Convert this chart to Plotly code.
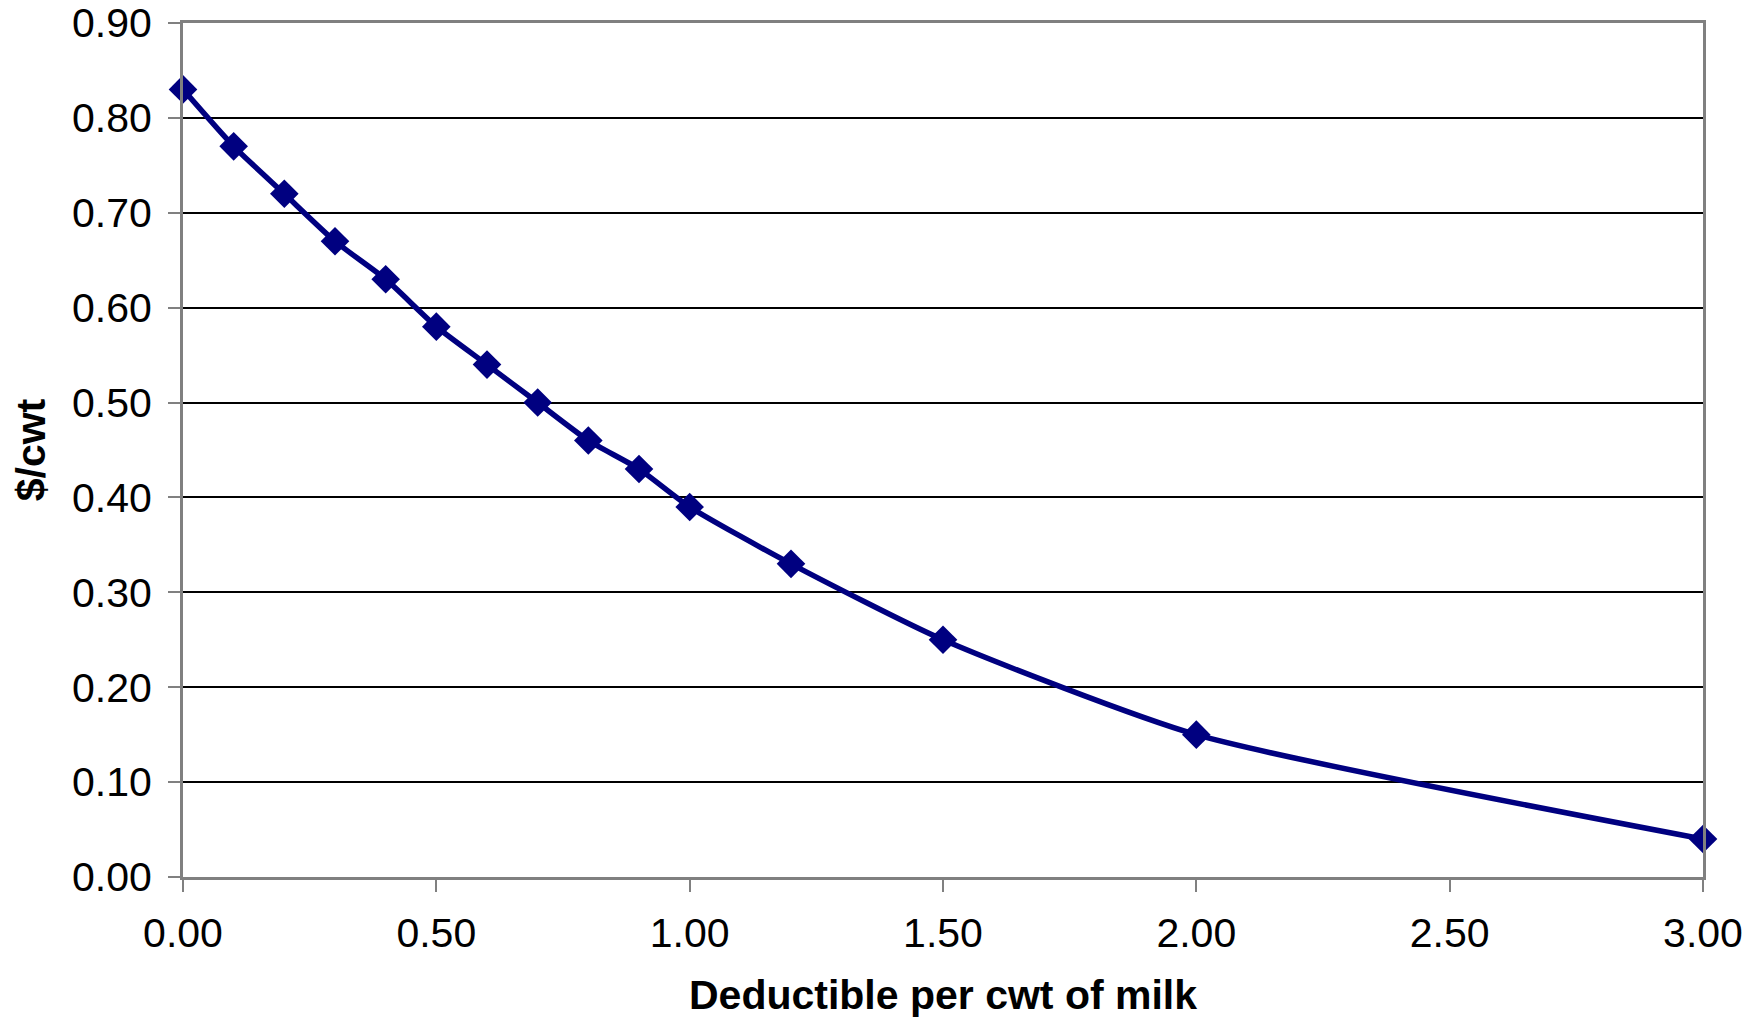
import plotly.graph_objects as go

deductible = [0.0, 0.1, 0.2, 0.3, 0.4, 0.5, 0.6, 0.7, 0.8, 0.9, 1.0, 1.2, 1.5, 2.0, 3.0]
cost = [0.83, 0.77, 0.72, 0.67, 0.63, 0.58, 0.54, 0.50, 0.46, 0.43, 0.39, 0.33, 0.25, 0.15, 0.04]
x_ticks = [0.0, 0.5, 1.0, 1.5, 2.0, 2.5, 3.0]
y_ticks = [0.0, 0.1, 0.2, 0.3, 0.4, 0.5, 0.6, 0.7, 0.8, 0.9]

fig = go.Figure()
fig.add_trace(go.Scatter(
    x=deductible, y=cost, mode="lines+markers",
    line=dict(color="#000080", width=5.5, shape="spline", smoothing=0.6),
    marker=dict(symbol="diamond", size=22, color="#000080"),
    cliponaxis=False, showlegend=False,
))

font = "Liberation Sans, Arial, sans-serif"
fig.update_layout(
    width=1764, height=1023,
    margin=dict(l=183, r=61, t=23, b=146),
    paper_bgcolor="white", plot_bgcolor="white",
    font=dict(family=font, size=41, color="black"),
    xaxis=dict(
        range=[0, 3], tickvals=x_ticks, ticktext=[f"{v:.2f}" for v in x_ticks],
        ticks="outside", ticklen=12, tickwidth=2, tickcolor="#808080",
        showgrid=False, zeroline=False, automargin=False,
        showline=True, linecolor="#808080", linewidth=3, mirror=True,
        tickfont=dict(size=41), ticklabelstandoff=6,
        title=dict(text="<b>Deductible per cwt of milk</b>", font=dict(size=41), standoff=26),
    ),
    yaxis=dict(
        range=[0, 0.9], tickvals=y_ticks, ticktext=[f"{v:.2f}" for v in y_ticks],
        ticks="outside", ticklen=12, tickwidth=2, tickcolor="#808080",
        showgrid=True, gridcolor="black", gridwidth=1.5, zeroline=False, automargin=False,
        showline=True, linecolor="#808080", linewidth=3, mirror=True,
        tickfont=dict(size=41), ticklabelstandoff=8,
        title=dict(text="<b>$/cwt</b>", font=dict(size=41), standoff=14),
    ),
)
fig.write_html("out.html")
